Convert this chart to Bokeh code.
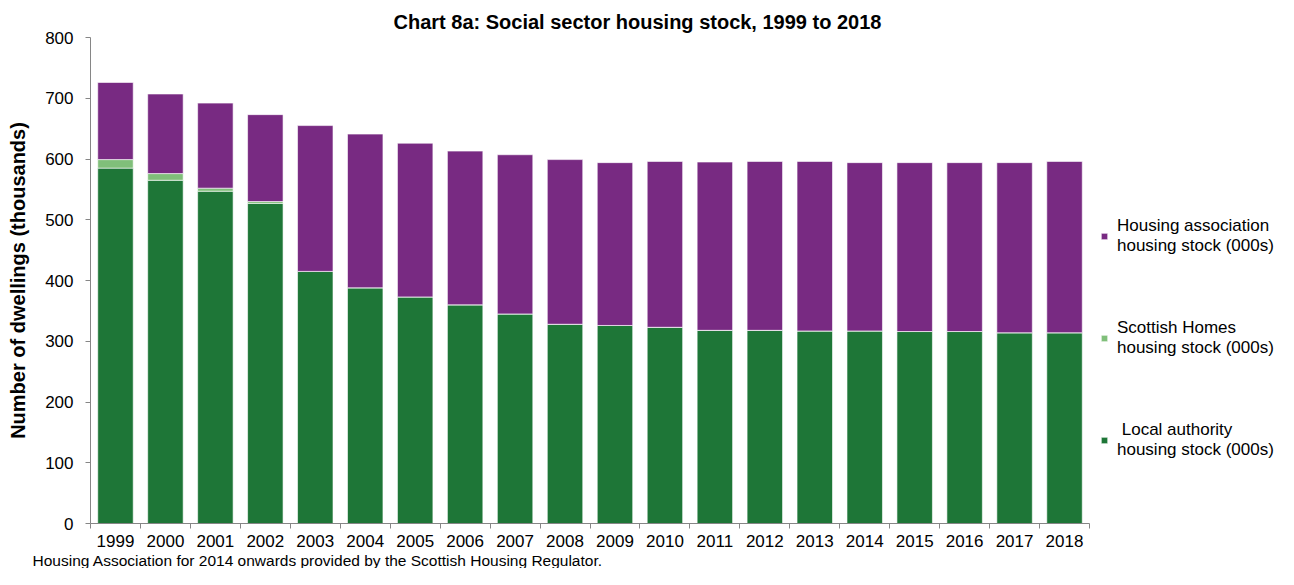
from bokeh.plotting import figure
from bokeh.models import (ColumnDataSource, FixedTicker, Legend, LegendItem, Title, Range1d)
from bokeh.embed import file_html
from bokeh.resources import INLINE

years = ["1999", "2000", "2001", "2002", "2003", "2004", "2005", "2006", "2007", "2008",
         "2009", "2010", "2011", "2012", "2013", "2014", "2015", "2016", "2017", "2018"]
local_authority = [585, 565, 547, 527, 415, 388, 373, 360, 345, 328,
                   326, 323, 318, 318, 317, 317, 316, 316, 314, 314]
scottish_homes = [14, 11, 5, 3, 0, 0, 0, 0, 0, 0,
                  0, 0, 0, 0, 0, 0, 0, 0, 0, 0]
housing_association = [127, 131, 140, 143, 240, 253, 253, 253, 262, 271,
                       268, 273, 277, 278, 279, 277, 278, 278, 280, 282]
y_ticks = [0, 100, 200, 300, 400, 500, 600, 700, 800]

series = ["la", "sh", "ha"]
labels = {
    "ha": "Housing association\nhousing stock (000s)",
    "sh": "Scottish Homes\nhousing stock (000s)",
    "la": " Local authority\nhousing stock (000s)",
}
colors = {"la": "#1E7637", "sh": "#80BF7A", "ha": "#782A82"}

xpos = [i + 0.5 for i in range(len(years))]
source = ColumnDataSource(dict(x=xpos, la=local_authority, sh=scottish_homes, ha=housing_association))

FONT = "Liberation Sans"
AXIS_COLOR = "#868686"

BAR_AREA_PX = 999      # width of the category area in pixels
FRAME_PX = 1187        # frame includes room on the right for the legend
n = len(years)
x_end = n * FRAME_PX / BAR_AREA_PX

p = figure(frame_width=FRAME_PX, frame_height=486,
           output_backend="svg", toolbar_location=None,
           x_range=Range1d(0, x_end), y_range=Range1d(0, 800),
           min_border_left=90, min_border_right=0, min_border_top=37, min_border_bottom=0)

renderers = p.vbar_stack(series, x="x", width=0.71, source=source,
                         color=[colors[s] for s in series], line_color="white", line_width=0.6)
rmap = dict(zip(series, renderers))

# Title
p.title.text = "Chart 8a: Social sector housing stock, 1999 to 2018"
p.title.text_font = FONT
p.title.text_font_size = "20px"
p.title.text_font_style = "bold"
p.title.text_color = "#000000"
p.title.align = "left"
p.title.offset = 303
p.title.standoff = 10

p.xgrid.grid_line_color = None
p.ygrid.grid_line_color = None
p.outline_line_color = None

# x axis
xa = p.xaxis[0]
xa.bounds = (0, n)
xa.ticker = FixedTicker(ticks=xpos, minor_ticks=list(range(n + 1)))
xa.major_label_overrides = {x: y for x, y in zip(xpos, years)}
xa.major_tick_line_color = None
xa.minor_tick_in = 0
xa.minor_tick_out = 5
xa.minor_tick_line_color = AXIS_COLOR
xa.axis_line_color = AXIS_COLOR
xa.major_label_text_font = FONT
xa.major_label_text_font_size = "17px"
xa.major_label_text_color = "#000000"
xa.major_label_standoff = 5

# y axis
ya = p.yaxis[0]
ya.ticker = FixedTicker(ticks=y_ticks)
ya.minor_tick_line_color = None
ya.major_tick_in = 0
ya.major_tick_out = 5
ya.major_tick_line_color = AXIS_COLOR
ya.axis_line_color = AXIS_COLOR
ya.major_label_text_font = FONT
ya.major_label_text_font_size = "17px"
ya.major_label_text_color = "#000000"
ya.major_label_standoff = 12
ya.axis_label = "Number of dwellings (thousands)"
ya.axis_label_text_font = FONT
ya.axis_label_text_font_size = "20px"
ya.axis_label_text_font_style = "bold"
ya.axis_label_text_color = "#000000"
ya.axis_label_standoff = 13

# Legend (inside the wide frame, right of the bars)
items = [LegendItem(label=labels[s], renderers=[rmap[s]]) for s in ["ha", "sh", "la"]]
legend = Legend(items=items, location=(1010, 63), margin=0, padding=6, spacing=62,
                glyph_width=8, glyph_height=8, label_standoff=9,
                label_text_font=FONT, label_text_font_size="17px", label_text_color="#000000",
                label_text_line_height=1.2,
                border_line_color=None, background_fill_alpha=0)
p.add_layout(legend)

# Footer
footer = Title(text="Housing Association for 2014 onwards provided by the Scottish Housing Regulator.",
               align="left", offset=-58, text_font=FONT, text_font_size="15.5px",
               text_font_style="normal", text_color="#000000", standoff=0)
p.add_layout(footer, "below")

open("out.html", "w").write(file_html(p, INLINE))
